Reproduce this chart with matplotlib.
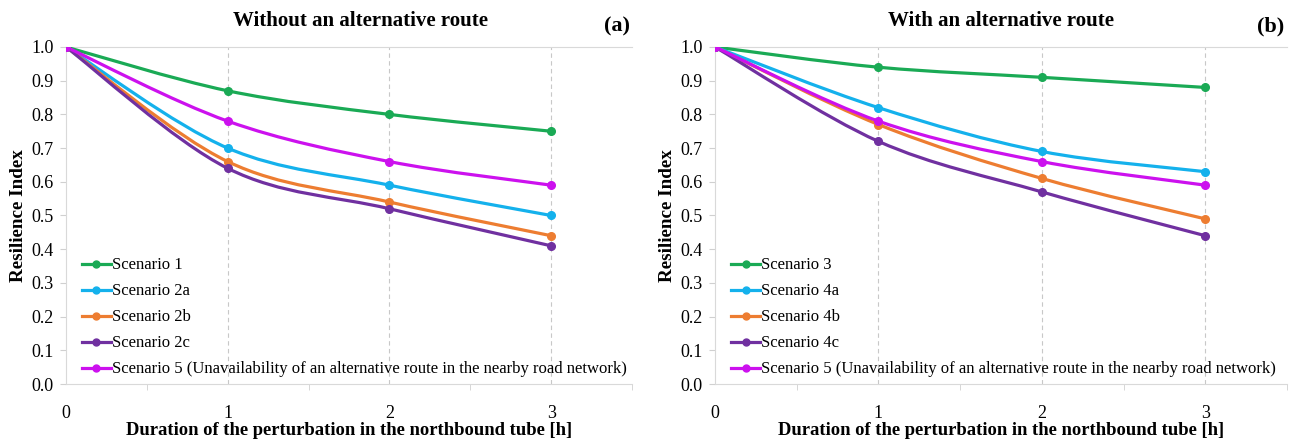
#!/usr/bin/env python3
# -*- coding: utf-8 -*-
"""
Resilience index vs. duration of perturbation, with / without alternative route.
"""

# %% Import
import numpy as np
import matplotlib as mpl
from matplotlib import pyplot as plt
from matplotlib.path import Path
from matplotlib.patches import PathPatch
from matplotlib.lines import Line2D

mpl.use('Agg')
plt.rcParams['font.family'] = ['Liberation Serif', 'DejaVu Serif']

# %% Data
hours = [0, 1, 2, 3]

labels_a = ['Scenario 1', 'Scenario 2a', 'Scenario 2b', 'Scenario 2c',
            'Scenario 5 (Unavailability of an alternative route in the nearby road network)']
s1 = [1.0, 0.87, 0.80, 0.75]
s2a = [1.0, 0.70, 0.59, 0.50]
s2b = [1.0, 0.66, 0.54, 0.44]
s2c = [1.0, 0.64, 0.52, 0.41]
s5 = [1.0, 0.78, 0.66, 0.59]

labels_b = ['Scenario 3', 'Scenario 4a', 'Scenario 4b', 'Scenario 4c',
            'Scenario 5 (Unavailability of an alternative route in the nearby road network)']
s3 = [1.0, 0.94, 0.91, 0.88]
s4a = [1.0, 0.82, 0.69, 0.63]
s4b = [1.0, 0.77, 0.61, 0.49]
s4c = [1.0, 0.72, 0.57, 0.44]

colors = ['#1aaa55', '#14b1ec', '#ed7d31', '#7030a0', '#cc11ee']


# %% smooth line (Excel-like, Catmull-Rom as cubic Bezier)
def smooth_path(x, y):
    p = np.column_stack([x, y]).astype(float)
    n = len(p)
    verts = [p[0]]
    codes = [Path.MOVETO]
    for i in range(n - 1):
        p0 = p[i - 1] if i > 0 else p[i]
        p3 = p[i + 2] if i + 2 < n else p[i + 1]
        c1 = p[i] + (p[i + 1] - p0) / 6.0
        c2 = p[i + 1] - (p3 - p[i]) / 6.0
        verts += [c1, c2, p[i + 1]]
        codes += [Path.CURVE4] * 3
    return Path(verts, codes)


def draw_panel(ax, series, labels, title, tag, title_x):
    for s, c in zip(series, colors):
        ax.add_patch(PathPatch(smooth_path(hours, s), facecolor='none',
                               edgecolor=c, linewidth=2.3, zorder=3))
        ax.plot(hours, s, linestyle='none', marker='o', markersize=5.5,
                color=c, zorder=4)

    ax.set_xlim(0, 3.5)
    ax.set_ylim(0, 1.0)
    ax.set_xticks([0, 1, 2, 3])
    ax.set_xticks(np.arange(0, 3.51, 0.5), minor=True)
    ax.set_yticks(np.arange(0, 1.01, 0.1))
    ax.yaxis.set_major_formatter(mpl.ticker.FormatStrFormatter('%.1f'))
    ax.tick_params(axis='both', labelsize=13, color='#d0d0d0')
    ax.tick_params(axis='x', which='major', length=0, pad=15)
    ax.tick_params(axis='x', which='minor', length=4, color='#d0d0d0')
    ax.tick_params(axis='y', length=4, pad=5)

    for x in [1, 2, 3]:
        ax.axvline(x, color='#c8c8c8', linestyle=(0, (4, 3)), linewidth=0.8,
                   zorder=1)
    for sp in ['left', 'bottom', 'top']:
        ax.spines[sp].set_color('#d9d9d9')
    ax.spines['right'].set_visible(False)

    ax.set_xlabel('Duration of the perturbation in the northbound tube [h]',
                  fontsize=13.4, fontweight='bold', labelpad=0)
    ax.set_ylabel('Resilience Index', fontsize=13.8, fontweight='bold',
                  labelpad=3)
    ax.text(title_x, 1.077, title, transform=ax.transAxes, ha='center',
            va='center', fontsize=15, fontweight='bold')
    ax.text(0.996, 1.062, tag, transform=ax.transAxes, ha='right',
            va='center', fontsize=16, fontweight='bold')

    handles = [Line2D([], [], color=c, linewidth=2.3, marker='o',
                      markersize=5) for c in colors]
    ax.legend(handles, labels, loc='lower left', bbox_to_anchor=(0.017, 0.0),
              frameon=False, fontsize=12, handlelength=1.7,
              handletextpad=0.1, labelspacing=0.6, borderaxespad=0.0)


# %% Plot
fig = plt.figure(figsize=(12.89, 4.44), dpi=100)
ax1 = fig.add_axes([66 / 1289, 60 / 444, 566 / 1289, 337 / 444])
ax2 = fig.add_axes([715 / 1289, 60 / 444, 572 / 1289, 337 / 444])

draw_panel(ax1, [s1, s2a, s2b, s2c, s5], labels_a,
           'Without an alternative route', '(a)', 0.521)
draw_panel(ax2, [s3, s4a, s4b, s4c, s5], labels_b,
           'With an alternative route', '(b)', 0.5)

fig.savefig('out.png', dpi=100)
plt.close(fig)
